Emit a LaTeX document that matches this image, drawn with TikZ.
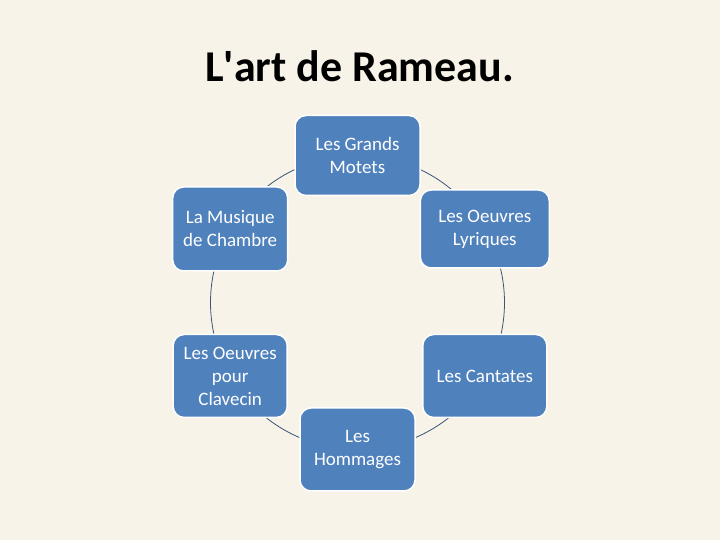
\documentclass[tikz,border=0pt]{standalone}
\usepackage{fontspec}
\setmainfont{Carlito}
\usetikzlibrary{calc}
\definecolor{bgcol}{HTML}{F8F3E8}
\definecolor{boxblue}{HTML}{4F81BD}
\definecolor{arccol}{HTML}{3A5679}
\pgfdeclarelayer{conn}
\pgfsetlayers{conn,main}
\tikzset{
  cbox/.style={draw=white, line width=1.5pt, fill=boxblue, rounded corners=11pt,
    text=white, align=center, inner sep=0pt, font=\fontsize{19}{23}\selectfont},
  conn/.style={draw=arccol, line width=0.8pt},
  titletext/.style={font=\fontsize{44}{53}\selectfont\bfseries, text=black, anchor=base}
}
\begin{document}
\begin{tikzpicture}[x=1pt,y=1pt]
\begin{pgfonlayer}{conn}
\fill[bgcol] (0,0) rectangle (720,540);
\end{pgfonlayer}
\useasboundingbox (0,0) rectangle (720,540);
\coordinate (C) at (357.5,237.5);
\node[titletext] (title) at (359.5,458) {L\textquotesingle art de Rameau.};
\node[cbox, minimum width=125pt, minimum height=80pt] (gm) at ($(C)+(90:147)$) {Les Grands\\Motets};
\node[cbox, minimum width=129pt, minimum height=78pt] (ol) at ($(C)+(30:147)$) {Les Oeuvres\\Lyriques};
\node[cbox, minimum width=124pt, minimum height=83pt] (ca) at ($(C)+(-30:147)$) {Les Cantates};
\node[cbox, minimum width=115pt, minimum height=83pt] (ho) at ($(C)+(-90:147)$) {Les\\Hommages};
\node[cbox, minimum width=114pt, minimum height=83pt] (oc) at ($(C)+(210:147)$) {Les Oeuvres\\pour\\Clavecin};
\node[cbox, minimum width=115pt, minimum height=84pt] (mc) at ($(C)+(150:147)$) {La Musique\\de Chambre};
\begin{pgfonlayer}{conn}
\draw[conn] (gm.center) arc[start angle=90, end angle=30, radius=147pt];
\draw[conn] (ol.center) arc[start angle=30, end angle=-30, radius=147pt];
\draw[conn] (ca.center) arc[start angle=-30, end angle=-90, radius=147pt];
\draw[conn] (ho.center) arc[start angle=-90, end angle=-150, radius=147pt];
\draw[conn] (oc.center) arc[start angle=210, end angle=150, radius=147pt];
\draw[conn] (mc.center) arc[start angle=150, end angle=90, radius=147pt];
\end{pgfonlayer}
\end{tikzpicture}
\end{document}
